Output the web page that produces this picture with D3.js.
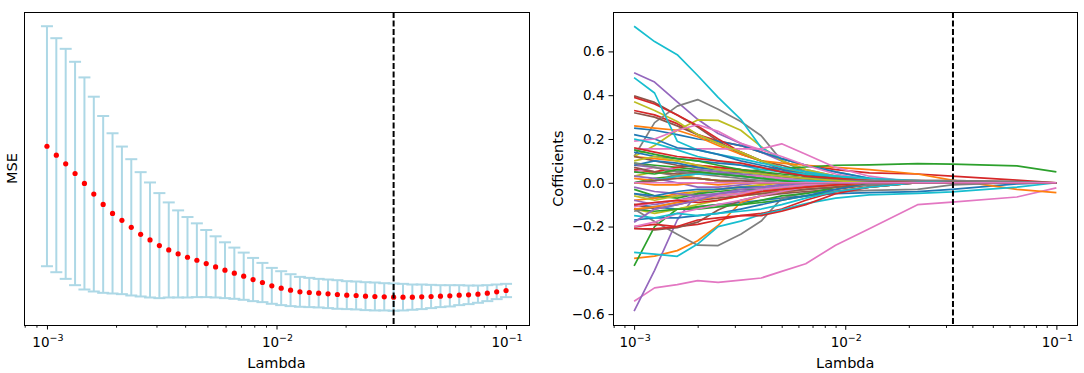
<!DOCTYPE html>
<html>
<head>
<meta charset="utf-8">
<script src="https://cdn.jsdelivr.net/npm/d3@7"></script>
<style>
  body { margin: 0; background: #fff; }
  text { font-family: "DejaVu Sans", sans-serif; fill: #000; }
</style>
</head>
<body>
<svg id="chart" width="1084" height="373"></svg>
<script>
// lambda grid used for the cross validation (50 values, 1e-3 .. 1e-1)
var lambdas = [0.001, 0.0010985, 0.0012068, 0.0013257, 0.0014563, 0.0015999, 0.0017575, 0.0019307, 0.002121, 0.00233,
  0.0025595, 0.0028118, 0.0030888, 0.0033932, 0.0037276, 0.0040949, 0.0044984, 0.0049417, 0.0054287, 0.0059636,
  0.0065513, 0.0071969, 0.007906, 0.0086851, 0.009541, 0.0104811, 0.011514, 0.0126486, 0.013895, 0.0152642,
  0.0167683, 0.0184207, 0.0202359, 0.02223, 0.0244205, 0.026827, 0.0294705, 0.0323746, 0.0355648, 0.0390694,
  0.0429193, 0.0471487, 0.0517947, 0.0568987, 0.0625055, 0.0686649, 0.0754312, 0.0828643, 0.0910298, 0.1];

// mean MSE and its spread at each lambda
var mseMean = [0.560, 0.533, 0.507, 0.478, 0.448, 0.416, 0.385, 0.358, 0.337, 0.316,
  0.295, 0.278, 0.261, 0.248, 0.236, 0.226, 0.217, 0.207, 0.197, 0.187,
  0.178, 0.169, 0.159, 0.150, 0.140, 0.133, 0.127, 0.122, 0.120, 0.118,
  0.116, 0.114, 0.112, 0.111, 0.109, 0.108, 0.107, 0.106, 0.106, 0.106,
  0.107, 0.108, 0.109, 0.110, 0.112, 0.113, 0.115, 0.118, 0.122, 0.126];
var mseErr = [0.361, 0.352, 0.346, 0.336, 0.319, 0.293, 0.266, 0.241, 0.222, 0.205,
  0.187, 0.173, 0.158, 0.143, 0.131, 0.121, 0.111, 0.101, 0.092, 0.084,
  0.077, 0.071, 0.065, 0.059, 0.054, 0.051, 0.048, 0.045, 0.044, 0.043,
  0.043, 0.043, 0.042, 0.042, 0.042, 0.042, 0.041, 0.041, 0.040, 0.038,
  0.037, 0.035, 0.033, 0.032, 0.030, 0.028, 0.026, 0.024, 0.022, 0.020];

// chosen lambda (dashed line)
var bestLambda = 0.0323746;

// lambdas where the coefficient paths are sampled
var pathLambdas = [0.001, 0.00125, 0.0016, 0.002, 0.0025, 0.0032, 0.004, 0.005, 0.0065, 0.009, 0.013, 0.022, 0.032, 0.065, 0.1];

// coefficient paths, grouped by the colour they get from the cycle
var coefBlue = [
  [-0.10, -0.11, -0.12, -0.11, -0.10, -0.09, -0.08, -0.07, -0.06, -0.05, -0.045, -0.04, -0.03, -0.005, 0],
  [0.25, 0.24, 0.22, 0.20, 0.19, 0.17, 0.14, 0.11, 0.08, 0.05, 0.02, 0, 0, 0, 0],
  [0.22, 0.20, 0.16, 0.15, 0.13, 0.10, 0.08, 0.06, 0.04, 0.02, 0, 0, 0, 0, 0],
  [-0.17, -0.16, -0.16, -0.15, -0.14, -0.12, -0.10, -0.08, -0.06, -0.03, 0, 0, 0, 0, 0],
  [0.14, 0.12, 0.11, 0.10, 0.09, 0.08, 0.07, 0.05, 0.03, 0.01, 0, 0, 0, 0, 0],
  [0.08, 0.10, 0.09, 0.07, 0.06, 0.05, 0.04, 0.03, 0.02, 0.01, 0, 0, 0, 0, 0],
  [-0.05, -0.06, -0.04, -0.03, -0.03, -0.02, -0.02, -0.01, 0, 0, 0, 0, 0, 0, 0]
];
var coefOrange = [
  [-0.345, -0.335, -0.31, -0.265, -0.195, -0.09, -0.06, -0.045, -0.03, -0.02, -0.01, 0, 0, 0, 0],
  [0.26, 0.25, 0.24, 0.21, 0.17, 0.13, 0.10, 0.09, 0.08, 0.07, 0.06, 0.04, 0.012, -0.03, -0.045],
  [0.12, 0.11, 0.10, 0.08, 0.07, 0.06, 0.04, 0.03, 0.02, 0.01, 0, 0, 0, 0, 0],
  [-0.08, -0.07, -0.05, -0.04, -0.03, -0.02, -0.01, 0, 0, 0, 0, 0, 0, 0, 0],
  [0.02, 0.01, 0.03, 0.02, 0.01, 0, 0, 0, 0, 0, 0, 0, 0, 0, 0],
  [-0.12, -0.11, -0.09, -0.08, -0.06, -0.05, -0.04, -0.03, -0.02, -0.01, 0, 0, 0, 0, 0],
  [0, -0.01, -0.01, 0, -0.01, 0, 0, 0, 0, 0, 0, 0, 0, 0, 0]
];
var coefGreen = [
  [-0.38, -0.20, -0.12, -0.11, -0.10, -0.10, -0.09, -0.08, -0.06, -0.04, -0.02, 0, 0, 0, 0],
  [0, 0.02, 0.03, 0.04, 0.04, 0.05, 0.06, 0.065, 0.072, 0.08, 0.082, 0.087, 0.085, 0.077, 0.05],
  [0.09, 0.08, 0.07, 0.06, 0.05, 0.04, 0.03, 0.02, 0.01, 0, 0, 0, 0, 0, 0],
  [-0.12, -0.13, -0.12, -0.12, -0.11, -0.10, -0.08, -0.06, -0.05, -0.02, 0, 0, 0, 0, 0],
  [-0.03, -0.06, -0.07, -0.05, -0.04, -0.03, -0.03, -0.02, -0.01, 0, 0, 0, 0, 0, 0],
  [0.15, 0.13, 0.11, 0.10, 0.08, 0.06, 0.05, 0.04, 0.03, 0.02, 0.01, 0, 0, 0, 0],
  [0.05, 0.04, 0.06, 0.05, 0.04, 0.03, 0.02, 0.01, 0, 0, 0, 0, 0, 0, 0]
];
var coefRed = [
  [0.33, 0.31, 0.27, 0.22, 0.19, 0.17, 0.14, 0.11, 0.08, 0.06, 0.045, 0.04, 0.03, 0.012, 0],
  [0.39, 0.36, 0.31, 0.26, 0.20, 0.14, 0.10, 0.06, 0.03, 0.01, 0, 0, 0, 0, 0],
  [-0.20, -0.19, -0.20, -0.19, -0.17, -0.15, -0.14, -0.12, -0.08, -0.04, -0.02, 0, 0, 0, 0],
  [-0.21, -0.21, -0.20, -0.17, -0.16, -0.15, -0.15, -0.13, -0.10, -0.05, -0.02, 0, 0, 0, 0],
  [0.06, 0.05, 0.07, 0.08, 0.07, 0.06, 0.05, 0.03, 0.02, 0.01, 0, 0, 0, 0, 0],
  [0.16, 0.14, 0.12, 0.11, 0.10, 0.09, 0.07, 0.05, 0.03, 0.02, 0.01, 0, 0, 0, 0],
  [-0.10, -0.09, -0.08, -0.09, -0.08, -0.06, -0.04, -0.03, -0.02, -0.01, 0, 0, 0, 0, 0]
];
var coefPurple = [
  [0.503, 0.46, 0.37, 0.29, 0.225, 0.18, 0.14, 0.10, 0.06, 0.03, 0.01, 0, 0, 0, 0],
  [-0.586, -0.40, -0.17, -0.045, -0.03, -0.02, -0.02, -0.01, 0, 0, 0, 0, 0, 0, 0],
  [0.08, 0.07, 0.05, 0.06, 0.05, 0.04, 0.03, 0.02, 0.01, 0, 0, 0, 0, 0, 0],
  [-0.08, -0.10, -0.08, -0.06, -0.05, -0.04, -0.03, -0.02, -0.01, 0, 0, 0, 0, 0, 0],
  [0.03, 0.02, 0, -0.02, -0.02, -0.01, 0, 0, 0, 0, 0, 0, 0, 0, 0],
  [-0.02, -0.04, -0.05, -0.06, -0.05, -0.04, -0.03, -0.02, -0.01, 0, 0, 0, 0, 0, 0],
  [-0.18, -0.12, -0.10, -0.08, -0.05, -0.03, -0.02, -0.01, 0, 0, 0, 0, 0, 0, 0]
];
var coefBrown = [
  [0.397, 0.367, 0.31, 0.255, 0.19, 0.13, 0.10, 0.08, 0.05, 0.03, 0.015, 0.01, 0.01, 0.005, 0],
  [0.32, 0.30, 0.26, 0.22, 0.18, 0.14, 0.10, 0.07, 0.04, 0.02, 0.01, 0.01, 0.005, 0, 0],
  [-0.207, -0.215, -0.205, -0.18, -0.124, -0.08, -0.06, -0.05, -0.04, -0.03, -0.01, 0, 0, 0, 0],
  [-0.10, -0.12, -0.10, -0.08, -0.07, -0.06, -0.05, -0.04, -0.03, -0.02, 0, 0, 0, 0, 0],
  [0.12, 0.10, 0.08, 0.07, 0.06, 0.05, 0.04, 0.03, 0.02, 0.01, 0, 0, 0, 0, 0],
  [0.07, 0.05, 0.04, 0.05, 0.04, 0.03, 0.02, 0.01, 0, 0, 0, 0, 0, 0, 0],
  [0, 0.01, 0.02, 0.02, 0.01, 0.01, 0, 0, 0, 0, 0, 0, 0, 0, 0]
];
var coefPink = [
  [-0.541, -0.48, -0.465, -0.447, -0.455, -0.445, -0.435, -0.405, -0.37, -0.285, -0.21, -0.10, -0.088, -0.065, -0.023],
  [0.155, 0.155, 0.155, 0.155, 0.155, 0.155, 0.155, 0.178, 0.13, 0.07, 0.03, 0, 0, 0, 0],
  [0.19, 0.20, 0.24, 0.265, 0.235, 0.18, 0.15, 0.12, 0.08, 0.04, 0.015, 0, 0, 0, 0],
  [-0.20, -0.18, -0.14, -0.12, -0.10, -0.08, -0.06, -0.04, -0.02, -0.01, 0, 0, 0, 0, 0],
  [0.05, 0.07, 0.06, 0.05, 0.04, 0.03, 0.03, 0.02, 0.01, 0, 0, 0, 0, 0, 0],
  [-0.11, -0.09, -0.08, -0.07, -0.06, -0.05, -0.03, -0.02, -0.01, 0, 0, 0, 0, 0, 0],
  [0, 0, 0, 0, 0, 0, 0, 0, 0, 0, 0, 0, 0, 0, 0]
];
var coefGray = [
  [0.12, 0.275, 0.35, 0.38, 0.336, 0.28, 0.215, 0.10, 0.05, 0.02, 0, 0, 0, 0, 0],
  [-0.12, -0.177, -0.235, -0.285, -0.287, -0.235, -0.175, -0.07, -0.045, -0.04, -0.035, -0.03, -0.01, 0, 0],
  [-0.05, -0.07, -0.06, -0.05, -0.06, -0.05, -0.04, -0.04, -0.03, -0.02, -0.01, 0, 0, 0, 0],
  [0.06, 0.05, 0.03, 0.02, 0.01, 0.01, 0.01, 0, 0, 0, 0, 0, 0, 0, 0],
  [-0.13, -0.11, -0.09, -0.07, -0.06, -0.05, -0.04, -0.03, -0.02, -0.01, 0, 0, 0, 0, 0],
  [0.09, 0.07, 0.05, 0.04, 0.03, 0.02, 0.01, 0.01, 0.01, 0.01, 0.01, 0.01, 0.01, 0.005, 0]
];
var coefOlive = [
  [0.12, 0.17, 0.24, 0.287, 0.285, 0.24, 0.165, 0.10, 0.06, 0.03, 0.01, 0, 0, 0, 0],
  [0.37, 0.33, 0.28, 0.22, 0.18, 0.14, 0.10, 0.07, 0.04, 0.02, 0, 0, 0, 0, 0],
  [-0.12, -0.14, -0.12, -0.10, -0.08, -0.06, -0.05, -0.04, -0.02, -0.01, 0, 0, 0, 0, 0],
  [0.03, 0.05, 0.04, 0.02, 0.01, 0, 0, 0, 0, 0, 0, 0, 0, 0, 0],
  [-0.06, -0.08, -0.06, -0.04, -0.03, -0.02, -0.01, 0, 0, 0, 0, 0, 0, 0, 0],
  [0.10, 0.12, 0.10, 0.08, 0.06, 0.05, 0.04, 0.03, 0.02, 0.01, 0, 0, 0, 0, 0]
];
var coefCyan = [
  [0.715, 0.645, 0.585, 0.49, 0.39, 0.29, 0.16, 0.11, 0.08, 0.05, 0.02, 0.005, 0, 0, 0],
  [0.48, 0.41, 0.19, 0.15, 0.13, 0.11, 0.09, 0.07, 0.05, 0.03, 0.01, 0, 0, 0, 0],
  [-0.318, -0.326, -0.336, -0.28, -0.20, -0.175, -0.145, -0.124, -0.095, -0.07, -0.055, -0.048, -0.042, -0.02, 0],
  [0.20, 0.18, 0.15, 0.12, 0.10, 0.08, 0.06, 0.05, 0.04, 0.03, 0.02, 0.01, 0, 0, 0],
  [-0.15, -0.16, -0.14, -0.15, -0.14, -0.13, -0.12, -0.10, -0.07, -0.04, -0.02, 0, 0, 0, 0],
  [0, 0.01, 0.03, 0.04, 0.04, 0.03, 0.02, 0.01, 0.01, 0, 0, 0, 0, 0, 0]
];

var majorTicks = [0.001, 0.01, 0.1];
var tickExponents = ["−3", "−2", "−1"];
var coefTicks = [-0.6, -0.4, -0.2, 0.0, 0.2, 0.4, 0.6];

var svg = d3.select("#chart");

// axes boxes in pixels
var boxL = {x0: 24, x1: 529, y0: 12, y1: 325};
var boxR = {x0: 613, x1: 1077.5, y0: 12, y1: 325.3};

// x domain = data range with a 5% margin in log space (like matplotlib)
var lo = Math.log10(d3.min(lambdas)), hi = Math.log10(d3.max(lambdas));
var pad = (hi - lo) * 0.05;
var xDomain = [Math.pow(10, lo - pad), Math.pow(10, hi + pad)];

var xL = d3.scaleLog().domain(xDomain).range([boxL.x0, boxL.x1]);
var xR = d3.scaleLog().domain(xDomain).range([boxR.x0, boxR.x1]);

// left y: error bar extent + 5%
var yMin = d3.min(mseMean, function(d, i) { return d - mseErr[i]; });
var yMax = d3.max(mseMean, function(d, i) { return d + mseErr[i]; });
var yPad = (yMax - yMin) * 0.05;
var yL = d3.scaleLinear().domain([yMin - yPad, yMax + yPad]).range([boxL.y1, boxL.y0]);

// right y: path extent + 5%
var allPaths = [coefBlue, coefOrange, coefGreen, coefRed, coefPurple, coefBrown, coefPink, coefGray, coefOlive, coefCyan];
var flat = d3.merge(allPaths.map(function(g) { return d3.merge(g); }));
var cMin = d3.min(flat), cMax = d3.max(flat), cPad = (cMax - cMin) * 0.05;
var yR = d3.scaleLinear().domain([cMin - cPad, cMax + cPad]).range([boxR.y1, boxR.y0]);

function drawXAxis(x, box) {
  var minor = [];
  [0.0001, 0.001, 0.01, 0.1].forEach(function(d) {
    for (var k = 2; k < 10; k++) {
      var v = d * k;
      if (v >= xDomain[0] && v <= xDomain[1]) minor.push(v);
    }
  });
  svg.append("g")
    .attr("transform", "translate(0," + box.y1 + ")")
    .call(d3.axisBottom(x).tickValues(minor).tickSize(2.7).tickFormat(""))
    .call(function(g) { g.select(".domain").remove(); })
    .selectAll("line").attr("stroke", "#000").attr("stroke-width", 0.9);
  svg.append("g")
    .attr("transform", "translate(0," + box.y1 + ")")
    .call(d3.axisBottom(x).tickValues(majorTicks).tickSize(4.5).tickFormat(""))
    .call(function(g) { g.select(".domain").remove(); })
    .selectAll("line").attr("stroke", "#000").attr("stroke-width", 1);

  majorTicks.forEach(function(v, i) {
    var t = svg.append("text")
      .attr("x", x(v) + 1)
      .attr("y", box.y1 + 22)
      .attr("text-anchor", "middle")
      .style("font-size", "13.5px");
    t.append("tspan").text("10");
    t.append("tspan").attr("dy", -6.5).style("font-size", "9.5px").text(tickExponents[i]);
  });

  svg.append("text")
    .attr("x", (box.x0 + box.x1) / 2)
    .attr("y", box.y1 + 43)
    .attr("text-anchor", "middle")
    .style("font-size", "14.5px")
    .text("Lambda");
}

function drawFrame(box) {
  svg.append("rect")
    .attr("x", box.x0).attr("y", box.y0)
    .attr("width", box.x1 - box.x0).attr("height", box.y1 - box.y0)
    .attr("fill", "none").attr("stroke", "#000").attr("stroke-width", 1)
    .attr("shape-rendering", "crispEdges");
}

function drawBest(x, box) {
  svg.append("line")
    .attr("x1", x(bestLambda)).attr("x2", x(bestLambda))
    .attr("y1", box.y0).attr("y2", box.y1)
    .attr("stroke", "#000").attr("stroke-width", 2)
    .attr("stroke-dasharray", "6,2.5");
}

// ---------- left: MSE with error bars ----------
var bars = svg.append("g");
bars.selectAll("line.bar")
  .data(lambdas)
  .enter().append("line")
  .attr("class", "bar")
  .attr("x1", function(d) { return xL(d); })
  .attr("x2", function(d) { return xL(d); })
  .attr("y1", function(d, i) { return yL(mseMean[i] - mseErr[i]); })
  .attr("y2", function(d, i) { return yL(mseMean[i] + mseErr[i]); })
  .attr("stroke", "lightblue").attr("stroke-width", 2);

[-1, 1].forEach(function(s) {
  bars.selectAll("line.cap" + (s > 0 ? "t" : "b"))
    .data(lambdas)
    .enter().append("line")
    .attr("x1", function(d) { return xL(d) - 6; })
    .attr("x2", function(d) { return xL(d) + 6; })
    .attr("y1", function(d, i) { return yL(mseMean[i] + s * mseErr[i]); })
    .attr("y2", function(d, i) { return yL(mseMean[i] + s * mseErr[i]); })
    .attr("stroke", "lightblue").attr("stroke-width", 2);
});

svg.append("g").selectAll("circle")
  .data(lambdas)
  .enter().append("circle")
  .attr("cx", function(d) { return xL(d); })
  .attr("cy", function(d, i) { return yL(mseMean[i]); })
  .attr("r", 2.6)
  .attr("fill", "red");

drawBest(xL, boxL);
drawXAxis(xL, boxL);
drawFrame(boxL);

svg.append("text")
  .attr("transform", "translate(17," + (boxL.y0 + boxL.y1) / 2 + ") rotate(-90)")
  .attr("text-anchor", "middle")
  .style("font-size", "14.5px")
  .text("MSE");

// ---------- right: coefficient paths ----------
var colors = d3.schemeCategory10;
var line = d3.line()
  .x(function(d, i) { return xR(pathLambdas[i]); })
  .y(function(d) { return yR(d); });

var paths = svg.append("g");
for (var g = 0; g < 7; g++) {
  allPaths.forEach(function(group, c) {
    if (group[g]) {
      paths.append("path")
        .attr("d", line(group[g]))
        .attr("fill", "none")
        .attr("stroke", colors[c])
        .attr("stroke-width", 1.7)
        .attr("stroke-linejoin", "round");
    }
  });
}

drawBest(xR, boxR);
drawXAxis(xR, boxR);

svg.append("g")
  .attr("transform", "translate(" + boxR.x0 + ",0)")
  .call(d3.axisLeft(yR).tickValues(coefTicks).tickSize(4.5).tickPadding(4)
    .tickFormat(function(d) { return d3.format(".1f")(d).replace("-", "−"); }))
  .call(function(g) { g.select(".domain").remove(); })
  .call(function(g) {
    g.selectAll("line").attr("stroke", "#000").attr("stroke-width", 1);
    g.selectAll("text").attr("fill", "#000").style("font-size", "13.5px")
      .style("font-family", "DejaVu Sans, sans-serif");
  });

drawFrame(boxR);

svg.append("text")
  .attr("transform", "translate(563," + (boxR.y0 + boxR.y1) / 2 + ") rotate(-90)")
  .attr("text-anchor", "middle")
  .style("font-size", "14.5px")
  .text("Cofficients");
</script>
</body>
</html>
